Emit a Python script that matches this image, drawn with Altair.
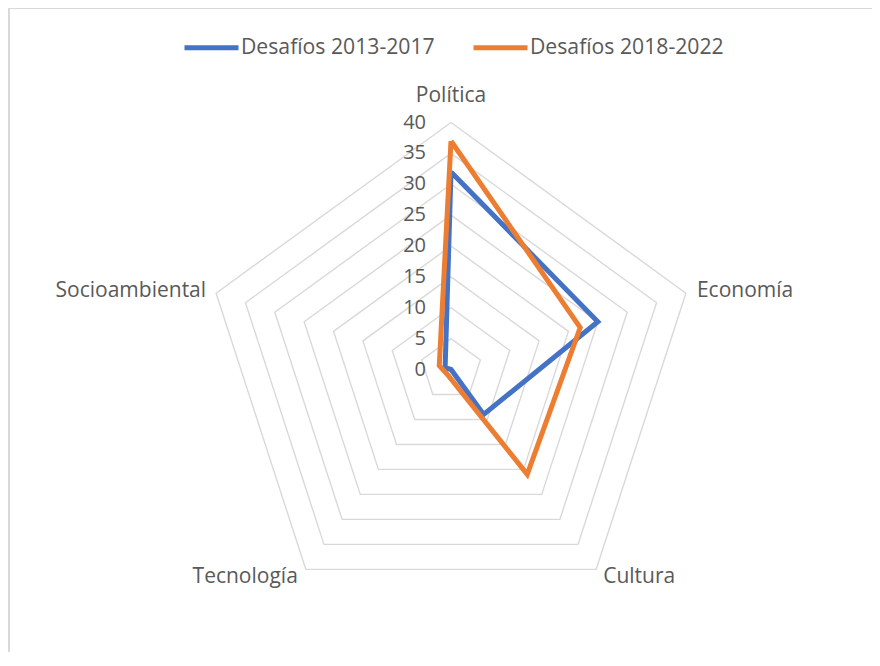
import altair as alt
import pandas as pd

# ---- data ----
categories = ["Política", "Economía", "Cultura", "Tecnología", "Socioambiental"]
series_names = ["Desafíos 2013-2017", "Desafíos 2018-2022"]
values_2013_2017 = [32, 25, 9, 0, 1]
values_2018_2022 = [37, 22, 21, 1, 2]
ring_levels = [5, 10, 15, 20, 25, 30, 35, 40]
tick_values = [0, 5, 10, 15, 20, 25, 30, 35, 40]
tick_labels = ["0", "5", "10", "15", "20", "25", "30", "35", "40"]

BLUE = "#4472C4"
ORANGE = "#ED7D31"
GRID = "#d9d9d9"
TEXT = "#595959"
FONT = "Open Sans"

# ---- layout parameters ----
W, H = 864, 644
CX, CY = 443, 361.5          # centre of the radar inside the view
PPU = 247 / 40               # pixels per unit
xd = [-CX / PPU, (W - CX) / PPU]
yd = [-(H - CY) / PPU, CY / PPU]
N = len(categories)

# ---- tables ----
series_rows = []
for name, vals in zip(series_names, [values_2013_2017, values_2018_2022]):
    for i in range(N + 1):
        series_rows.append({"serie": name, "idx": i, "value": vals[i % N]})
series_df = pd.DataFrame(series_rows)

ring_rows = []
for lv in ring_levels:
    for i in range(N + 1):
        ring_rows.append({"level": lv, "idx": i, "value": lv})
ring_df = pd.DataFrame(ring_rows)

tick_df = pd.DataFrame({"value": tick_values, "label": tick_labels})
cat_df = pd.DataFrame({"cat": categories, "idx": list(range(N)), "value": [40] * N})

xs = alt.Scale(domain=xd, nice=False, zero=False)
ys = alt.Scale(domain=yd, nice=False, zero=False)

calc_x = f"datum.value * sin(2 * PI * datum.idx / {N})"
calc_y = f"datum.value * cos(2 * PI * datum.idx / {N})"

# light frame (left and top edges; the others fall outside the window)
frame_left = alt.Chart(tick_df).mark_rule(color=GRID, strokeWidth=1.2).encode(
    x=alt.value(1), y=alt.value(0), y2=alt.value(H)
)
frame_top = alt.Chart(tick_df).mark_rule(color=GRID, strokeWidth=1.2).encode(
    x=alt.value(0), x2=alt.value(W), y=alt.value(0.5)
)

rings = (
    alt.Chart(ring_df)
    .transform_calculate(px=calc_x, py=calc_y)
    .mark_line(color=GRID, strokeWidth=1.4, strokeJoin="miter")
    .encode(
        x=alt.X("px:Q", scale=xs, axis=None),
        y=alt.Y("py:Q", scale=ys, axis=None),
        detail="level:N",
        order="idx:Q",
    )
)

lines = (
    alt.Chart(series_df)
    .transform_calculate(px=calc_x, py=calc_y)
    .mark_line(strokeWidth=5, strokeJoin="miter", strokeCap="butt")
    .encode(
        x=alt.X("px:Q", scale=xs, axis=None),
        y=alt.Y("py:Q", scale=ys, axis=None),
        order="idx:Q",
        color=alt.Color(
            "serie:N",
            scale=alt.Scale(domain=series_names, range=[BLUE, ORANGE]),
            legend=alt.Legend(
                title=None,
                orient="none",
                legendX=174,
                legendY=10,
                direction="horizontal",
                symbolType="stroke",
                symbolSize=54 * 54,
                symbolStrokeWidth=5,
                labelFont=FONT,
                labelFontSize=21.2,
                labelColor=TEXT,
                labelOffset=0,
                columnPadding=28,
                padding=0,
                labelLimit=400,
            ),
        ),
    )
)

ticks = (
    alt.Chart(tick_df)
    .transform_calculate(z="0")
    .mark_text(align="right", baseline="middle", dx=-25, font=FONT, fontSize=20, color=TEXT)
    .encode(
        x=alt.X("z:Q", scale=xs, axis=None),
        y=alt.Y("value:Q", scale=ys, axis=None),
        text="label:N",
    )
)

label_style = {
    "Política": dict(align="center", dx=0, dy=-27),
    "Economía": dict(align="left", dx=11, dy=-2),
    "Cultura": dict(align="left", dx=7, dy=8),
    "Tecnología": dict(align="right", dx=-8, dy=8),
    "Socioambiental": dict(align="right", dx=-10, dy=-2),
}

label_layers = []
for c in categories:
    st = label_style[c]
    label_layers.append(
        alt.Chart(cat_df)
        .transform_filter(alt.datum.cat == c)
        .transform_calculate(px=calc_x, py=calc_y)
        .mark_text(baseline="middle", font=FONT, fontSize=21, color=TEXT, **st)
        .encode(
            x=alt.X("px:Q", scale=xs, axis=None),
            y=alt.Y("py:Q", scale=ys, axis=None),
            text="cat:N",
        )
    )

chart = (
    alt.layer(frame_left, frame_top, rings, lines, ticks, *label_layers)
    .properties(width=W, height=H, padding=0, autosize=alt.AutoSizeParams(type="none"))
    .configure_view(stroke=None)
    .configure(background="white")
)

chart.save("out.html", embed_options={"renderer": "svg", "actions": False})
